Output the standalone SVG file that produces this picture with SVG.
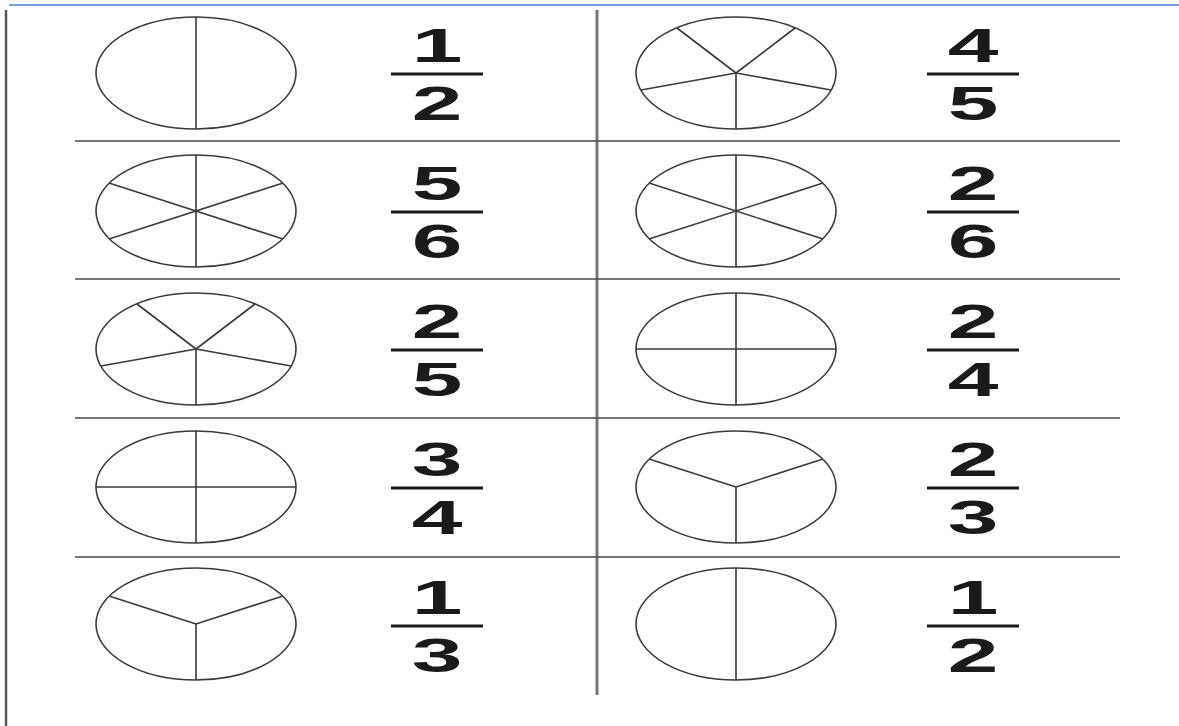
<svg xmlns="http://www.w3.org/2000/svg" width="1179" height="726" viewBox="0 0 1179 726">
<style>
.bg{fill:#ffffff}
.pie{fill:none;stroke:#3a3a3a;stroke-width:1.6}
.sp{stroke:#3a3a3a;stroke-width:1.6;fill:none}
.row{stroke:#4a4a4a;stroke-width:1.6}
.bar{stroke:#1a1a1a;stroke-width:3}
.d{font-family:"Liberation Sans",Arial,sans-serif;font-weight:bold;font-size:48px;fill:#1a1a1a;text-anchor:middle}
</style>
<rect class="bg" x="0" y="0" width="1179" height="726"/>
<line x1="9" y1="5" x2="1179" y2="5" stroke="#6f9fd8" stroke-width="2"/>
<g id="connectors">
<line x1="6" y1="10" x2="6" y2="726" stroke="#555" stroke-width="2.5"/>
<line x1="597" y1="10" x2="597" y2="695" stroke="#777" stroke-width="3"/>
<line class="row" x1="75" y1="141" x2="1120" y2="141"/>
<line class="row" x1="75" y1="279" x2="1120" y2="279"/>
<line class="row" x1="75" y1="418" x2="1120" y2="418"/>
<line class="row" x1="75" y1="557" x2="1120" y2="557"/>
</g>
<!-- Row 1 -->
<g id="pie-1-left">
<ellipse class="pie" cx="196" cy="73" rx="100" ry="56"/>
<line class="sp" x1="196" y1="17" x2="196" y2="129"/>
</g>
<g id="frac-1-left">
<text class="d" transform="translate(437,62) scale(1.9,1)">1</text>
<line class="bar" x1="391" y1="74" x2="483" y2="74"/>
<text class="d" transform="translate(437,120) scale(1.9,1)">2</text>
</g>
<g id="pie-1-right">
<ellipse class="pie" cx="736" cy="73" rx="100" ry="56"/>
<path class="sp" d="M736 73V129M736 73L831 90M736 73L641 90M736 73L795 28M736 73L677 28"/>
</g>
<g id="frac-1-right">
<text class="d" transform="translate(973,62) scale(1.9,1)">4</text>
<line class="bar" x1="927" y1="74" x2="1019" y2="74"/>
<text class="d" transform="translate(973,120) scale(1.9,1)">5</text>
</g>
<!-- Row 2 -->
<g id="pie-2-left">
<ellipse class="pie" cx="196" cy="211" rx="100" ry="56"/>
<path class="sp" d="M196 155V267M109 183L283 239M109 239L283 183"/>
</g>
<g id="frac-2-left">
<text class="d" transform="translate(437,200) scale(1.9,1)">5</text>
<line class="bar" x1="391" y1="212" x2="483" y2="212"/>
<text class="d" transform="translate(437,258) scale(1.9,1)">6</text>
</g>
<g id="pie-2-right">
<ellipse class="pie" cx="736" cy="211" rx="100" ry="56"/>
<path class="sp" d="M736 155V267M649 183L823 239M649 239L823 183"/>
</g>
<g id="frac-2-right">
<text class="d" transform="translate(973,200) scale(1.9,1)">2</text>
<line class="bar" x1="927" y1="212" x2="1019" y2="212"/>
<text class="d" transform="translate(973,258) scale(1.9,1)">6</text>
</g>
<!-- Row 3 -->
<g id="pie-3-left">
<ellipse class="pie" cx="196" cy="349" rx="100" ry="56"/>
<path class="sp" d="M196 349V405M196 349L291 366M196 349L101 366M196 349L255 304M196 349L137 304"/>
</g>
<g id="frac-3-left">
<text class="d" transform="translate(437,338) scale(1.9,1)">2</text>
<line class="bar" x1="391" y1="350" x2="483" y2="350"/>
<text class="d" transform="translate(437,396) scale(1.9,1)">5</text>
</g>
<g id="pie-3-right">
<ellipse class="pie" cx="736" cy="349" rx="100" ry="56"/>
<path class="sp" d="M736 293V405M636 349H836"/>
</g>
<g id="frac-3-right">
<text class="d" transform="translate(973,338) scale(1.9,1)">2</text>
<line class="bar" x1="927" y1="350" x2="1019" y2="350"/>
<text class="d" transform="translate(973,396) scale(1.9,1)">4</text>
</g>
<!-- Row 4 -->
<g id="pie-4-left">
<ellipse class="pie" cx="196" cy="487" rx="100" ry="56"/>
<path class="sp" d="M196 431V543M96 487H296"/>
</g>
<g id="frac-4-left">
<text class="d" transform="translate(437,476) scale(1.9,1)">3</text>
<line class="bar" x1="391" y1="488" x2="483" y2="488"/>
<text class="d" transform="translate(437,534) scale(1.9,1)">4</text>
</g>
<g id="pie-4-right">
<ellipse class="pie" cx="736" cy="487" rx="100" ry="56"/>
<path class="sp" d="M736 487V543M736 487L649 459M736 487L823 459"/>
</g>
<g id="frac-4-right">
<text class="d" transform="translate(973,476) scale(1.9,1)">2</text>
<line class="bar" x1="927" y1="488" x2="1019" y2="488"/>
<text class="d" transform="translate(973,534) scale(1.9,1)">3</text>
</g>
<!-- Row 5 -->
<g id="pie-5-left">
<ellipse class="pie" cx="196" cy="624" rx="100" ry="56"/>
<path class="sp" d="M196 624V680M196 624L109 596M196 624L283 596"/>
</g>
<g id="frac-5-left">
<text class="d" transform="translate(437,614) scale(1.9,1)">1</text>
<line class="bar" x1="391" y1="626" x2="483" y2="626"/>
<text class="d" transform="translate(437,672) scale(1.9,1)">3</text>
</g>
<g id="pie-5-right">
<ellipse class="pie" cx="736" cy="624" rx="100" ry="56"/>
<path class="sp" d="M736 568V680"/>
</g>
<g id="frac-5-right">
<text class="d" transform="translate(973,614) scale(1.9,1)">1</text>
<line class="bar" x1="927" y1="626" x2="1019" y2="626"/>
<text class="d" transform="translate(973,672) scale(1.9,1)">2</text>
</g>
</svg>
